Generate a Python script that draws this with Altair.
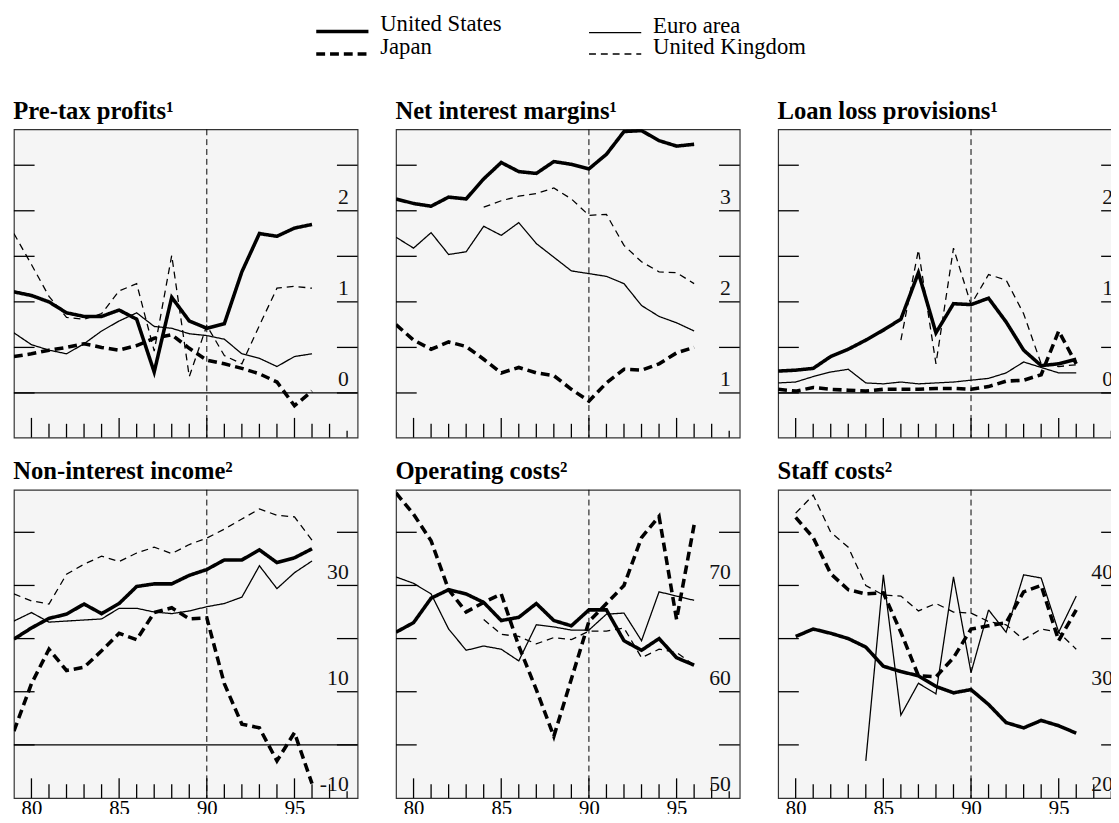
import altair as alt
import pandas as pd

SERIES = ["United States", "Euro area", "Japan", "United Kingdom"]
LEGEND_ORDER = ["United States", "Japan", "Euro area", "United Kingdom"]
THICK = ["United States", "Japan"]
YEARS = list(range(1979, 1997))

# Pre-tax profits (1)
profits_us = [1.11, 1.07, 1.00, 0.88, 0.84, 0.84, 0.91, 0.81, 0.23, 1.05, 0.79, 0.71, 0.76, 1.33, 1.75, 1.72, 1.81, 1.85]
profits_euro = [0.66, 0.53, 0.47, 0.43, 0.54, 0.68, 0.79, 0.88, 0.73, 0.71, 0.65, 0.63, 0.59, 0.43, 0.38, 0.29, 0.40, 0.43]
profits_japan = [0.40, 0.43, 0.47, 0.50, 0.54, 0.50, 0.47, 0.52, 0.60, 0.64, 0.49, 0.36, 0.32, 0.27, 0.21, 0.12, -0.14, 0.02]
profits_uk = [1.75, 1.41, 1.06, 0.83, 0.81, 0.87, 1.12, 1.20, 0.46, 1.51, 0.18, 0.74, 0.41, 0.32, 0.74, 1.15, 1.17, 1.15]

# Net interest margins (1)
nim_us = [3.13, 3.08, 3.05, 3.15, 3.13, 3.35, 3.53, 3.43, 3.41, 3.54, 3.51, 3.46, 3.62, 3.87, 3.88, 3.77, 3.71, 3.73]
nim_euro = [2.71, 2.59, 2.76, 2.52, 2.55, 2.83, 2.73, 2.87, 2.64, 2.49, 2.34, 2.31, 2.28, 2.20, 1.96, 1.84, 1.77, 1.68]
nim_japan = [1.75, 1.58, 1.48, 1.56, 1.51, 1.37, 1.22, 1.28, 1.22, 1.19, 1.04, 0.91, 1.11, 1.26, 1.25, 1.32, 1.44, 1.50]
nim_uk = [None, None, None, None, None, 3.04, 3.11, 3.16, 3.19, 3.25, 3.13, 2.95, 2.96, 2.62, 2.44, 2.33, 2.32, 2.20]

# Loan loss provisions (1)
llp_us = [0.24, 0.25, 0.27, 0.40, 0.48, 0.58, 0.69, 0.81, 1.32, 0.66, 0.98, 0.97, 1.04, 0.78, 0.47, 0.30, 0.32, 0.37]
llp_euro = [0.11, 0.12, 0.18, 0.23, 0.26, 0.11, 0.10, 0.12, 0.10, 0.11, 0.12, 0.14, 0.16, 0.22, 0.34, 0.28, 0.22, 0.22]
llp_japan = [0.04, 0.02, 0.06, 0.04, 0.03, 0.02, 0.04, 0.04, 0.04, 0.05, 0.05, 0.04, 0.07, 0.13, 0.14, 0.20, 0.68, 0.32]
llp_uk = [None, None, None, None, None, None, None, 0.58, 1.57, 0.32, 1.59, 0.97, 1.30, 1.24, 0.87, 0.32, 0.29, 0.31]

# Non-interest income (2)
nii_us = [19.9, 22.0, 23.8, 24.6, 26.5, 24.7, 26.6, 29.8, 30.3, 30.3, 31.9, 33.0, 34.8, 34.8, 36.7, 34.3, 35.2, 36.9]
nii_euro = [23.3, 24.9, 23.1, 23.3, 23.5, 23.7, 25.7, 25.7, 25.0, 24.7, 25.2, 26.0, 26.6, 27.8, 33.7, 29.4, 32.4, 34.6]
nii_japan = [2.6, 11.5, 18.0, 14.0, 14.6, 17.7, 21.0, 19.8, 24.9, 25.8, 23.7, 23.9, 11.5, 3.9, 3.2, -3.0, 2.3, -7.3]
nii_uk = [28.4, 27.1, 26.5, 32.1, 34.0, 35.5, 34.5, 36.1, 37.2, 36.0, 37.7, 38.9, 40.6, 42.5, 44.4, 43.2, 42.9, 38.5]

# Operating costs (2)
oc_us = [65.6, 66.5, 68.8, 69.6, 69.2, 68.4, 66.7, 67.0, 68.3, 66.7, 66.2, 67.7, 67.7, 64.8, 63.9, 65.0, 63.2, 62.5]
oc_euro = [70.8, 70.2, 69.2, 65.9, 63.9, 64.3, 64.0, 62.9, 66.3, 66.1, 65.8, 65.8, 67.3, 67.4, 64.8, 69.4, 69.0, 68.6]
oc_japan = [78.7, 76.7, 74.2, 69.6, 67.5, 68.4, 69.2, 64.3, 60.2, 55.8, 61.2, 66.6, 68.3, 70.0, 74.5, 76.5, 66.8, 75.7]
oc_uk = [None, None, None, None, None, 66.8, 65.4, 65.2, 64.5, 65.1, 64.9, 65.7, 65.7, 66.0, 63.2, 64.0, 63.7, 62.5]

# Staff costs (2)
sc_us = [None, 35.2, 35.9, 35.5, 35.0, 34.2, 32.4, 31.9, 31.5, 30.5, 29.9, 30.2, 28.8, 27.1, 26.6, 27.3, 26.8, 26.1]
sc_euro = [None, None, None, None, None, 23.5, 41.0, 27.8, 30.8, 29.8, 40.8, 31.8, 37.7, 35.6, 41.0, 40.7, 35.6, 39.0]
sc_japan = [None, 46.4, 44.5, 41.1, 39.6, 39.2, 39.3, 35.6, 31.5, 31.4, 33.2, 35.9, 36.2, 36.5, 39.4, 40.0, 34.8, 37.7]
sc_uk = [None, 46.8, 48.5, 45.0, 43.6, 40.0, 39.1, 39.0, 37.6, 38.3, 37.5, 37.4, 36.6, 36.3, 34.9, 35.9, 35.6, 34.0]

# Axis ticks and labels
X_DOMAIN = [1979, 1998.6]
X_LABEL_YEARS = [1980, 1985, 1990, 1995]
X_MAJOR = [1980, 1985, 1990, 1995]
X_MINOR = [1981, 1982, 1983, 1984, 1986, 1987, 1988, 1989, 1991, 1992, 1993, 1994, 1996, 1997]
X_END = [1998]
MARKER_YEAR = [1990]

PANELS = [
    dict(title="Pre-tax profits\u00b9", data=[profits_us, profits_euro, profits_japan, profits_uk],
         domain=[-0.49, 2.894], ticks=[0, 0.5, 1, 1.5, 2, 2.5], labels=[0, 1, 2], texts=["0", "1", "2"], zero=True),
    dict(title="Net interest margins\u00b9", data=[nim_us, nim_euro, nim_japan, nim_uk],
         domain=[0.51, 3.894], ticks=[1, 1.5, 2, 2.5, 3, 3.5], labels=[1, 2, 3], texts=["1", "2", "3"], zero=False),
    dict(title="Loan loss provisions\u00b9", data=[llp_us, llp_euro, llp_japan, llp_uk],
         domain=[-0.49, 2.894], ticks=[0, 0.5, 1, 1.5, 2, 2.5], labels=[0, 1, 2], texts=["0", "1", "2"], zero=True),
    dict(title="Non-interest income\u00b2", data=[nii_us, nii_euro, nii_japan, nii_uk],
         domain=[-10, 48], ticks=[0, 10, 20, 30, 40], labels=[-10, 10, 30], texts=["-10", "10", "30"], zero=True),
    dict(title="Operating costs\u00b2", data=[oc_us, oc_euro, oc_japan, oc_uk],
         domain=[50, 79], ticks=[55, 60, 65, 70, 75], labels=[50, 60, 70], texts=["50", "60", "70"], zero=False),
    dict(title="Staff costs\u00b2", data=[sc_us, sc_euro, sc_japan, sc_uk],
         domain=[20, 49], ticks=[25, 30, 35, 40, 45], labels=[20, 30, 40], texts=["20", "30", "40"], zero=False),
]

# Styling
W, H = 349, 313
FONT = "Liberation Serif"
TICK_LEN = 21
MAJOR_LEN, MINOR_LEN, END_LEN = 20, 14, 7
THICK_W, THIN_W = 3.6, 1.3
DASH_STYLE = {"United States": [1, 0], "Euro area": [1, 0], "Japan": [9, 5], "United Kingdom": [7, 5]}

thick_test = " || ".join(f"datum.value == '{s}'" for s in THICK)
legend = alt.Legend(
    orient="none", legendX=322, legendY=-111, columns=2, title=None,
    symbolType="stroke", symbolSize=2809, symbolStrokeColor="black",
    symbolStrokeWidth={"expr": f"({thick_test}) ? {THICK_W} : {THIN_W}"},
    labelFont=FONT, labelFontSize=23, labelColor="black", labelOffset=27,
    labelLimit=400, columnPadding=85, rowPadding=-3, labelBaseline="alphabetic",
)


def make_panel(p, bottom):
    rows = []
    for name, vals in zip(SERIES, p["data"]):
        for yr, v in zip(YEARS, vals):
            if v is not None:
                rows.append({"year": yr, "value": v, "series": name})
    df = pd.DataFrame(rows)
    xs = alt.Scale(domain=X_DOMAIN, nice=False, zero=False)
    ys = alt.Scale(domain=p["domain"], nice=False, zero=False)
    if bottom:
        xaxis = alt.Axis(values=X_LABEL_YEARS, labelExpr="substring(toString(datum.value), 2, 4)",
                         ticks=False, domain=False, grid=False, title=None, labelFont=FONT,
                         labelFontSize=21, labelColor="black", labelPadding=0, labelOverlap=False,
                         labelFlush=False)
    else:
        xaxis = None

    def X(field="year"):
        return alt.X(f"{field}:Q", scale=xs, axis=xaxis)

    def Y(field="value"):
        return alt.Y(f"{field}:Q", scale=ys, axis=None)

    layers = []
    if p["zero"]:
        layers.append(alt.Chart(pd.DataFrame({"v": [0]})).mark_rule(color="black", strokeWidth=1.3)
                      .encode(y=Y("v")))
    layers.append(alt.Chart(pd.DataFrame({"year": MARKER_YEAR})).mark_rule(
        color="black", strokeWidth=1, strokeDash=[6, 4]).encode(x=X()))
    tick_df = pd.DataFrame({"v": p["ticks"]})
    layers.append(alt.Chart(tick_df).mark_rule(color="black", strokeWidth=1.3).encode(
        y=Y("v"), x=alt.value(0), x2=alt.value(TICK_LEN)))
    layers.append(alt.Chart(tick_df).mark_rule(color="black", strokeWidth=1.3).encode(
        y=Y("v"), x=alt.value(W - TICK_LEN), x2=alt.value(W)))
    for yrs, ln in ((X_MAJOR, MAJOR_LEN), (X_MINOR, MINOR_LEN), (X_END, END_LEN)):
        layers.append(alt.Chart(pd.DataFrame({"year": yrs})).mark_rule(color="black", strokeWidth=1.3)
                      .encode(x=X(), y=alt.value(H - ln), y2=alt.value(H)))
    layers.append(alt.Chart(pd.DataFrame({"v": p["labels"], "t": p["texts"]})).mark_text(
        align="right", baseline="alphabetic", dy=-7, font=FONT, fontSize=22, color="#111")
        .encode(y=Y("v"), x=alt.value(W - 9), text="t:N"))
    layers.append(alt.Chart(df).mark_line(color="black", clip=True).encode(
        x=X(), y=Y(),
        strokeDash=alt.StrokeDash("series:N", legend=legend, scale=alt.Scale(
            domain=LEGEND_ORDER, range=[DASH_STYLE[s] for s in LEGEND_ORDER])),
        strokeWidth=alt.when((alt.datum.series == THICK[0]) | (alt.datum.series == THICK[1]))
        .then(alt.value(THICK_W)).otherwise(alt.value(THIN_W)),
    ))
    return alt.layer(*layers).properties(
        width=W, height=H,
        title=alt.TitleParams(p["title"], anchor="start", font=FONT, fontSize=25, fontWeight="bold",
                              color="black", offset=5),
    )


row1 = alt.hconcat(*[make_panel(p, False) for p in PANELS[:3]], spacing=35)
row2 = alt.hconcat(*[make_panel(p, True) for p in PANELS[3:]], spacing=35)
chart = alt.vconcat(row1, row2, spacing=19).properties(
    padding={"left": 4, "top": 6, "right": -13, "bottom": -12}
).configure_view(fill="#f5f5f5", stroke="#333333", strokeWidth=1.2)

chart.save("out.html", embed_options={"renderer": "svg", "actions": False})
